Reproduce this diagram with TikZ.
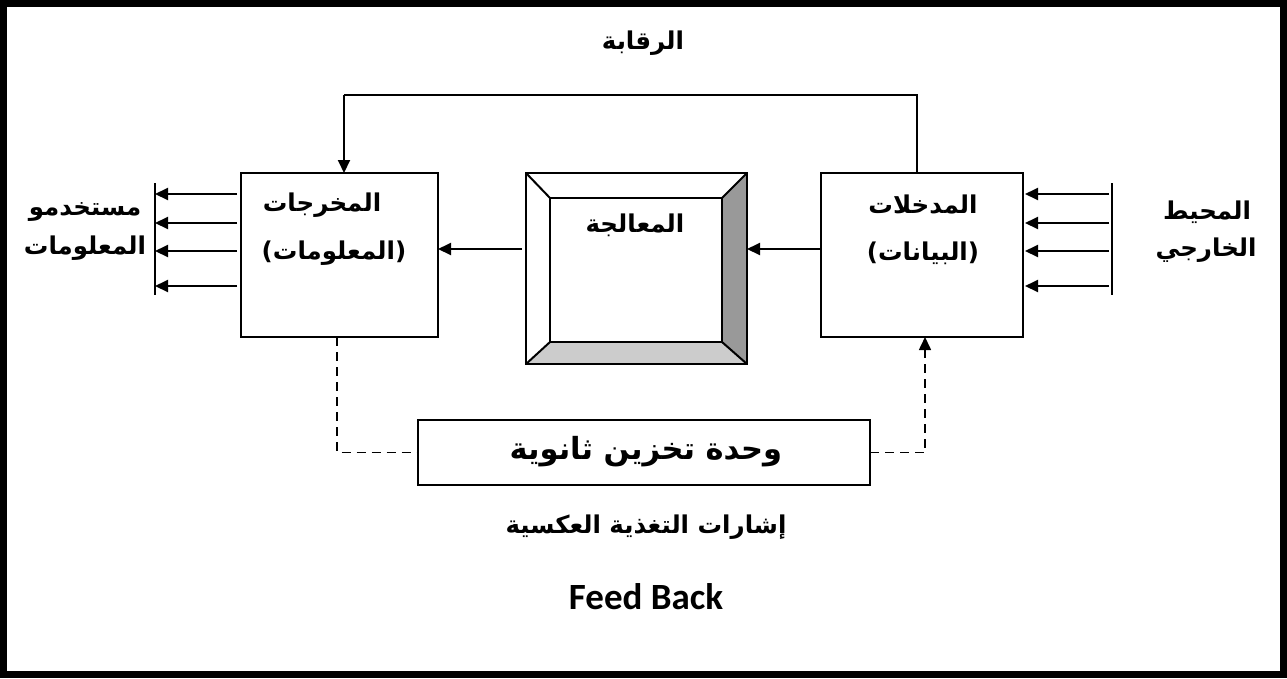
\documentclass[tikz,border=0pt]{standalone}
\usepackage{fontspec}
\setmainfont{DejaVu Sans}
\newfontfamily\arabicfont[Script=Arabic]{DejaVu Sans}
\newfontfamily\fbfont{Carlito}
\TeXXeTstate=1
\usetikzlibrary{arrows.meta}
\definecolor{bevdark}{HTML}{999999}
\definecolor{bevlight}{HTML}{CCCCCC}
\begin{document}
\begin{tikzpicture}[x=1pt,y=-1pt,
  box/.style={draw,line width=2pt,inner sep=0pt,outer sep=0pt},
  ar/.style={font=\arabicfont\bfseries\fontsize{24.5}{28}\selectfont,inner sep=0pt},
  arbig/.style={font=\arabicfont\bfseries\fontsize{30.5}{34}\selectfont,inner sep=0pt},
  arr/.style={line width=2pt,-{Triangle[length=13pt,width=12pt]}},
  thin/.style={line width=1.6pt},
  dsh/.style={line width=1.6pt,dash pattern=on 9pt off 6pt}]
\useasboundingbox (0,0) rectangle (1287,678);
\draw[line width=7pt] (3.5,3.5) rectangle (1283.5,674.5);

% boxes
\node[box,minimum width=197pt,minimum height=164pt] (out) at (339.5,255) {};
\node[box,minimum width=202pt,minimum height=164pt] (in) at (922,255) {};
\node[box,minimum width=452pt,minimum height=65pt] (store) at (644,452.5) {};
% process (bevelled)
\coordinate (pnw) at (526,173); \coordinate (pne) at (747,173);
\coordinate (pse) at (747,364); \coordinate (psw) at (526,364);
\coordinate (qnw) at (550,198); \coordinate (qne) at (722,198);
\coordinate (qse) at (722,342); \coordinate (qsw) at (550,342);
\fill[bevdark] (pne) -- (pse) -- (qse) -- (qne) -- cycle;
\fill[bevlight] (psw) -- (pse) -- (qse) -- (qsw) -- cycle;
\node[box,minimum width=221pt,minimum height=191pt] (proc) at (636.5,268.5) {};
\node[box,minimum width=172pt,minimum height=144pt] (procin) at (636,270) {};
\draw[line width=2pt] (proc.north west) -- (procin.north west)
  (proc.north east) -- (procin.north east)
  (proc.south east) -- (procin.south east)
  (proc.south west) -- (procin.south west);

% texts
\node[ar] (ctrl) at (643,43) {\beginR الرقابة\endR};
\node[ar] (outa) at (322,205) {\beginR المخرجات\endR};
\node[ar] (outb) at (334,253) {\beginR (المعلومات)\endR};
\node[ar] (ina) at (923,205) {\beginR المدخلات\endR};
\node[ar] (inb) at (923,253) {\beginR (البيانات)\endR};
\node[ar] (proct) at (635,225) {\beginR المعالجة\endR};
\node[ar] (usera) at (85,212) {\beginR مستخدمو\endR};
\node[ar] (userb) at (85,248) {\beginR المعلومات\endR};
\node[ar] (enva) at (1207,212) {\beginR المحيط\endR};
\node[ar] (envb) at (1206,250) {\beginR الخارجي\endR};
\node[arbig] (storet) at (646,452) {\beginR وحدة تخزين ثانوية\endR};
\node[ar] (fbar) at (646,527) {\beginR إشارات التغذية العكسية\endR};
\node[font=\fbfont\bfseries\fontsize{37}{40}\selectfont,inner sep=0pt] (fben) at (646,597) {Feed Back};

% horizontal flow
\coordinate (mid) at (0,249);
\draw[arr] (in.west |- mid) -- (proc.east |- mid);
\draw[arr] ([xshift=-4pt]proc.west |- mid) -- (out.east |- mid);

% input bar and arrows
\coordinate (ibt) at (1112,183); \coordinate (ibb) at (1112,295);
\draw[line width=1.6pt] (ibt) -- (ibb);
\coordinate (obt) at (155,183); \coordinate (obb) at (155,295);
\draw[line width=1.6pt] (obt) -- (obb);
\foreach \yy in {194,223,251,286}{
  \draw[arr] ([xshift=-3pt]ibt |- 0,\yy) -- ([xshift=2pt]in.east |- 0,\yy);
  \draw[arr] ([xshift=-4pt]out.west |- 0,\yy) -- (obt |- 0,\yy);
}

% control loop
\coordinate (c1) at (917,95); \coordinate (c2) at (344,95);
\draw[thin] (in.north -| c1) -- (c1) -- (c2);
\draw[arr] (c2) -- (out.north -| c2);

% feedback dashed
\coordinate (d1) at (337,452.5); \coordinate (d2) at (925,452.5);
\draw[dsh] (out.south -| d1) -- (d1) -- (store.west);
\draw[dsh] (store.east) -- (d2) -- ([yshift=-8pt]in.south -| d2);
\draw[line width=1.6pt,-{Triangle[length=13pt,width=12pt]}] ([yshift=-9pt]in.south -| d2) -- (in.south -| d2);
\end{tikzpicture}
\end{document}
